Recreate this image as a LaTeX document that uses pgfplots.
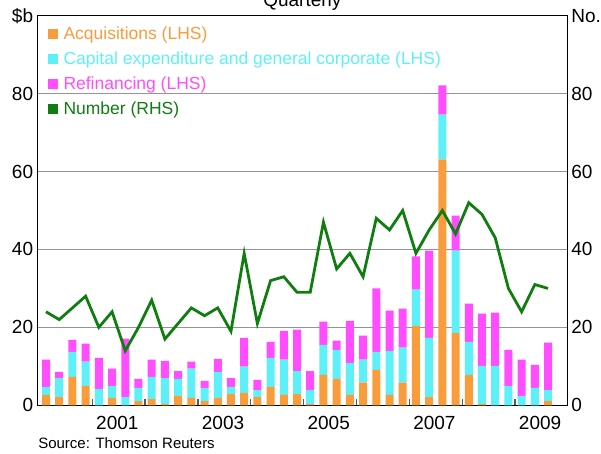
\documentclass[border=0pt]{standalone}
\usepackage{fontspec}
\setmainfont{Liberation Sans}
\usepackage{pgfplots}
\usepackage{pgfplotstable}
\pgfplotsset{compat=1.18}

\definecolor{acq}{RGB}{248,156,60}
\definecolor{capx}{RGB}{94,240,248}
\definecolor{refi}{RGB}{255,77,255}
\definecolor{numb}{RGB}{16,125,16}

\pgfplotsset{sqleg/.style={legend image code/.code={\fill[##1] (0pt,-5pt) rectangle (10pt,5pt);}}}

% quarterly, 2000 Q1 = 0 ... 2009 Q3 = 38
\pgfplotstableread{
i  acq  cap  ref  num
0  2.7  2.0  7.0  24
1  2.1  4.9  1.6  22
2  7.3  6.4  3.1  25
3  5.0  6.2  4.6  28
4  0.0  4.2  8.0  20
5  1.9  3.1  4.4  24
6  0.0  2.1  15.0 14
7  1.1  3.4  2.3  20
8  1.6  5.7  4.4  27
9  0.3  6.7  4.4  17
10 2.4  4.4  2.0  21
11 1.9  7.5  1.8  25
12 1.1  3.4  1.8  23
13 1.9  6.7  3.3  25
14 2.9  1.8  2.3  19
15 3.2  6.7  7.4  39
16 2.1  1.8  2.6  21
17 4.7  7.5  4.1  32
18 2.7  9.0  7.4  33
19 2.9  5.9  10.6 29
20 0.3  3.6  4.9  29
21 7.8  7.7  6.0  47
22 6.8  7.4  2.4  35
23 2.7  8.2  10.8 39
24 5.8  5.9  6.2  33
25 9.1  4.6  16.3 48
26 2.7  11.3 10.3 45
27 5.8  9.0  10.0 50
28 20.4 9.3  8.5  39
29 2.1  15.2 22.4 45
30 63.1 11.5 7.5  50
31 18.6 21.1 9.0  44
32 7.8  8.5  9.8  52
33 0.3  9.8  13.4 49
34 0.0  10.1 13.7 43
35 0.0  5.0  9.2  30
36 0.0  2.4  9.3  24
37 0.0  4.5  5.9  31
38 1.1  2.8  12.2 30
}\loans

\begin{document}
\begin{tikzpicture}
\begin{axis}[
    scale only axis, width=529.6pt, height=389.6pt,
    xmin=-0.636, xmax=39.45, ymin=0, ymax=100,
    ybar stacked, bar width=8pt,
    axis line style={line width=1.3pt},
    ytick={0,20,...,100}, yticklabels={0,20,40,60,80,\$b},
    ymajorgrids, grid style={black!42, line width=1.1pt},
    ytick pos=left, ytick style={draw=none},
    xtick={3.5,7.5,...,35.5}, xticklabels={},
    xtick pos=bottom, tick align=inside, major tick length=6.7pt,
    xtick style={black!65, line width=1.3pt},
    extra x ticks={5.4,13.4,21.4,29.4,37.4},
    extra x tick labels={2001,2003,2005,2007,2009},
    extra x tick style={grid=none, tick style={draw=none}},
    /pgf/number format/assume math mode=true,
    tick label style={font=\fontsize{19}{22}\selectfont},
    yticklabel style={anchor=east, inner sep=0pt, xshift=-4.3pt},
    xticklabel style={anchor=north, inner sep=0pt, yshift=-10.7pt},
    legend cell align=left,
    legend style={at={(0,1)}, anchor=north west, xshift=10.2pt, yshift=-11.6pt,
        draw=none, fill=none, inner sep=0pt, outer sep=0pt, row sep=10.7pt,
        font=\fontsize{17.5}{20}\selectfont,
        nodes={inner sep=0pt, outer sep=0pt},
        /tikz/every odd column/.append style={column sep=5.7pt}},
]
\addplot[fill=acq, draw=none, sqleg] table[x=i, y=acq]{\loans};
\addlegendentry{\textcolor{acq}{Acquisitions (LHS)}}
\addplot[fill=capx, draw=none, sqleg] table[x=i, y=cap]{\loans};
\addlegendentry{\textcolor{capx}{Capital expenditure and general corporate (LHS)}}
\addplot[fill=refi, draw=none, sqleg] table[x=i, y=ref]{\loans};
\addlegendentry{\textcolor{refi}{Refinancing (LHS)}}
\addlegendimage{sqleg, fill=numb, draw=none}
\addlegendentry{\textcolor{numb}{Number (RHS)}}
\coordinate (SW) at (rel axis cs:0,0);
\coordinate (NE) at (rel axis cs:1,1);
\coordinate (N) at (rel axis cs:0.5,1);
\end{axis}

\begin{axis}[
    scale only axis, width=529.6pt, height=389.6pt,
    xmin=-0.636, xmax=39.45, ymin=0, ymax=100,
    hide x axis, axis y line*=right,
    axis line style={line width=1.3pt},
    ytick={0,20,...,100}, yticklabels={0,20,40,60,80,No.},
    ytick style={draw=none},
    /pgf/number format/assume math mode=true,
    tick label style={font=\fontsize{19}{22}\selectfont},
    yticklabel style={anchor=west, inner sep=0pt, xshift=4pt},
]
\addplot[numb, line width=2.8pt, mark=none] table[x=i, y=num]{\loans};
\end{axis}

\node[anchor=base, inner sep=0pt, font=\fontsize{19}{22}\selectfont] at ([yshift=9.2pt]N) {Quarterly};
\node[anchor=base west, inner sep=0pt, font=\fontsize{15}{18}\selectfont] at ([xshift=0.5pt, yshift=-43.7pt]SW) {Source: Thomson Reuters};

\pgfresetboundingbox
\path[use as bounding box] ([xshift=-37.6pt, yshift=-48.7pt]SW) rectangle ([xshift=33.8pt, yshift=15.7pt]NE);
\end{tikzpicture}
\end{document}
